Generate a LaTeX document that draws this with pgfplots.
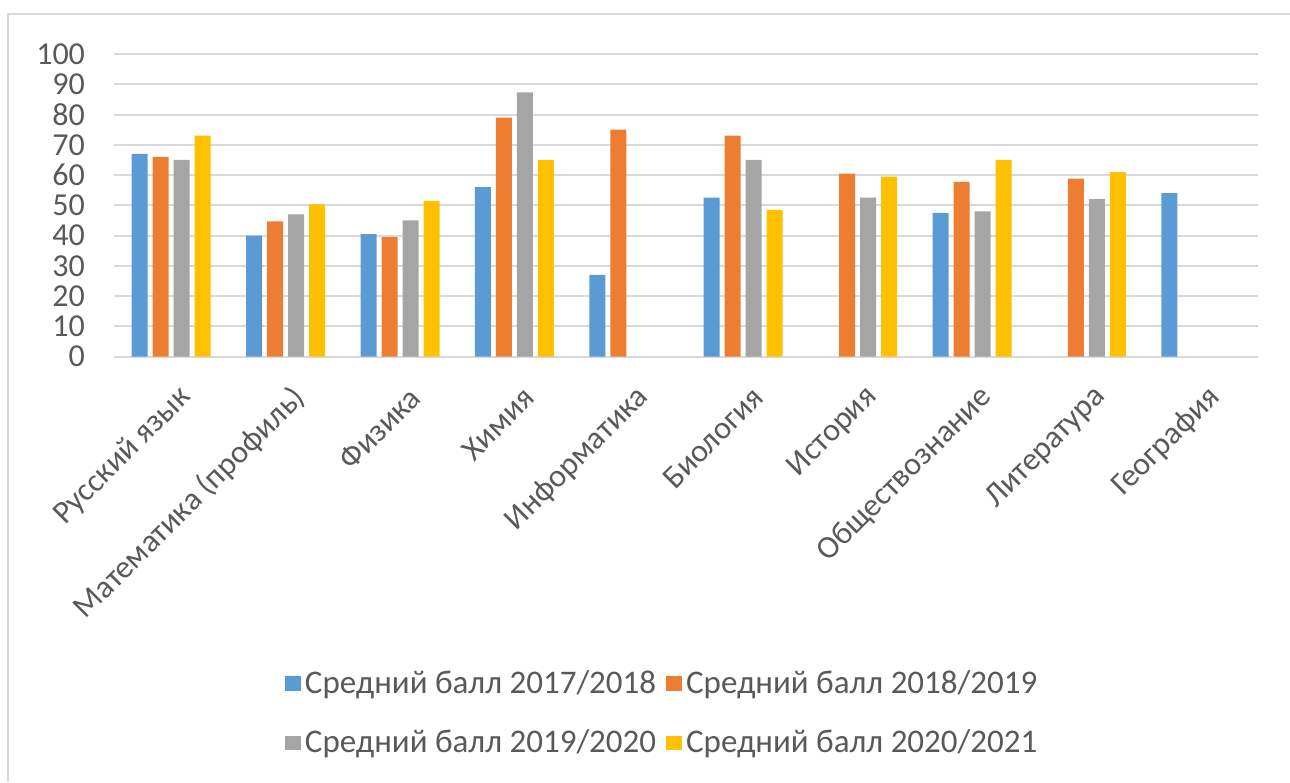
\documentclass[border=0pt]{standalone}
\usepackage{pgfplots}
\pgfplotsset{compat=1.18}
\usepackage{fontspec}
\setmainfont{Carlito}

\definecolor{s1}{HTML}{5B9BD5}
\definecolor{s2}{HTML}{ED7D31}
\definecolor{s3}{HTML}{A5A5A5}
\definecolor{s4}{HTML}{FFC000}
\definecolor{txt}{HTML}{595959}
\definecolor{gridc}{HTML}{D9D9D9}

\begin{document}
\begin{tikzpicture}
\useasboundingbox (0,0) rectangle (645pt,391pt);
% frame of the chart area
\draw[gridc, line width=1pt] (4pt,0) -- (4pt,384pt) -- (645pt,384pt);

\begin{axis}[
    at={(57pt,212.7pt)}, anchor=south west,
    scale only axis,
    width=572pt, height=151.3pt,
    ybar=2.5pt, bar width=8pt,
    xmin=-0.5, xmax=9.5,
    ymin=0, ymax=100,
    ytick={0,10,...,100},
    xtick={0,...,9},
    xticklabels={Русский язык, Математика (профиль), Физика, Химия, Информатика,
                 Биология, История, Обществознание, Литература, География},
    axis line style={draw=none},
    major tick length=0pt,
    ymajorgrids=true,
    grid style={gridc, line width=1pt},
    tick label style={font=\fontsize{16}{17}\selectfont, text=txt},
    yticklabel style={anchor=east, xshift=-11pt},
    xticklabel style={rotate=45, anchor=east, xshift=-4pt, yshift=-18pt},
    /pgf/number format/assume math mode=true,
    legend columns=2,
    legend style={at={(0.480,-1.178)}, anchor=center, draw=none,
                  font=\fontsize{16.5}{17}\selectfont, text=txt,
                  /tikz/every even column/.append style={column sep=3pt},
                  row sep=13pt},
    legend image code/.code={\fill (0pt,-3.7pt) rectangle (8pt,3.7pt);},
]
\addplot[fill=s1, draw=none] coordinates {
    (0,67) (1,40) (2,40.5) (3,56) (4,27) (5,52.5) (7,47.5) (9,54)};
\addlegendentry{Средний балл 2017/2018}
\addplot[fill=s2, draw=none] coordinates {
    (0,66) (1,44.7) (2,39.5) (3,79) (4,75) (5,73) (6,60.5) (7,57.7) (8,58.8)};
\addlegendentry{Средний балл 2018/2019}
\addplot[fill=s3, draw=none] coordinates {
    (0,65) (1,47) (2,45) (3,87.3) (5,65) (6,52.5) (7,48) (8,52)};
\addlegendentry{Средний балл 2019/2020}
\addplot[fill=s4, draw=none] coordinates {
    (0,73) (1,50.3) (2,51.5) (3,65) (5,48.5) (6,59.5) (7,65) (8,61)};
\addlegendentry{Средний балл 2020/2021}
\end{axis}
\end{tikzpicture}
\end{document}
